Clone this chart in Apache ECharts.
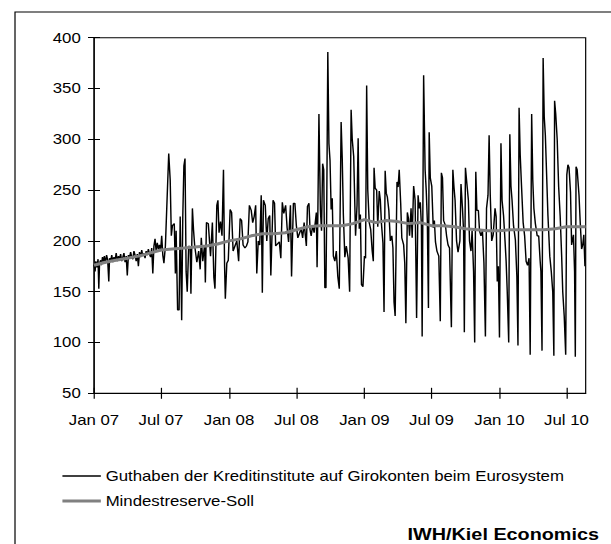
<!DOCTYPE html>
<html>
<head>
<meta charset="utf-8">
<script src="https://cdn.jsdelivr.net/npm/echarts@6/dist/echarts.min.js"></script>
<style>
  html, body { margin: 0; padding: 0; background: #fff; overflow: hidden; }
  #chart { width: 509px; height: 544px; transform: scaleX(1.2004); transform-origin: 0 0; }
</style>
</head>
<body>
<div id="chart"></div>
<script>
// Days counted from 1 Jan 2007; values in Mrd. Euro
const guthabenDays = [
  0, 3, 5, 8, 11, 13, 15, 18, 20, 23, 26, 28, 31, 34, 37, 40, 42, 45, 48, 51,
  54, 57, 60, 63, 66, 69, 72, 75, 78, 81, 84, 87, 90, 93, 96, 99, 102, 105, 108, 111,
  114, 117, 120, 123, 126, 129, 132, 135, 138, 141, 144, 147, 150, 153, 156, 159, 162, 165, 168, 171,
  174, 177, 180, 183, 186, 189,
  193, 202, 206, 209, 212, 217, 220, 222, 226, 230, 233, 237, 240, 243, 246, 249, 252, 256, 260, 262,
  266, 269, 272, 278, 283, 287, 290, 294, 299, 301, 304, 309, 315, 320, 324, 327, 332, 335, 338, 342,
  346, 350, 353, 355, 359, 363, 368, 372, 376, 381, 386, 391, 395, 399, 403, 408, 412, 416, 420, 425,
  429, 433, 437, 440, 444, 448, 452, 455, 458, 463, 467, 471, 475, 478, 484, 488, 491, 496, 501, 505,
  509, 513, 518, 522, 526, 531, 534, 539, 543, 547, 551, 556, 560, 564, 568, 574, 577, 581, 584, 587,
  591, 595, 601, 603, 605, 608, 612, 615, 618, 621, 624, 627, 629, 632, 635, 638, 641, 644, 647, 651,
  655, 659, 663, 668, 671, 674, 678, 682, 687, 691, 695, 698, 702, 707, 711, 714, 717, 720, 723, 727,
  731, 734, 737, 740, 744, 748, 752, 755, 757, 760, 764, 767, 771, 774, 777, 781, 784, 787, 790, 793,
  797, 801, 805, 808, 811, 814, 819, 822, 825, 829, 832, 837, 840, 843, 847, 850, 853, 857, 860, 864,
  868, 872, 876, 879, 882, 885, 887, 891, 895, 898, 901, 904, 906, 909, 913, 917, 920, 923, 927, 932,
  936, 939, 942, 945, 950, 953, 957, 961, 966, 970, 973, 976, 980, 984, 989, 992, 996, 999, 1001, 1004,
  1008, 1012, 1015, 1019, 1022, 1026, 1029, 1032, 1035, 1039, 1042, 1046, 1050, 1054, 1058, 1061, 1065, 1068, 1071, 1075,
  1079, 1084, 1087, 1090, 1093, 1096, 1100, 1103, 1107, 1111, 1114, 1117, 1121, 1124, 1127, 1130, 1134, 1139, 1143, 1146,
  1149, 1152, 1155, 1160, 1164, 1168, 1172, 1176, 1179, 1183, 1186, 1189, 1193, 1198, 1202, 1206, 1208, 1211, 1214, 1217,
  1220, 1223, 1227, 1232, 1236, 1240, 1243, 1245, 1248, 1252, 1256, 1260, 1264, 1267, 1271, 1275, 1278, 1281, 1284, 1288,
  1291, 1296, 1299, 1301, 1303, 1306, 1311, 1314, 1318, 1321, 1324, 1327, 1329
];
const guthabenValues = [
  177, 170, 180, 174, 182, 153, 178, 181, 176, 184, 179, 185, 178, 186, 181, 160, 183, 180, 186, 179,
  184, 181, 188, 180, 185, 182, 187, 180, 184, 188, 179, 185, 166, 186, 183, 189, 184, 182, 190, 186,
  180, 187, 175, 189, 184, 191, 185, 188, 183, 190, 186, 192, 187, 184, 193, 168, 195, 202, 190, 198,
  192, 196, 190, 205, 186, 178,
  195, 286, 260, 205, 215, 217, 168, 210, 132, 132, 224, 122, 224, 274, 281, 170, 150, 195, 194, 148,
  232, 211, 196, 179, 190, 172, 203, 180, 196, 159, 218, 217, 185, 218, 164, 153, 235, 240, 208, 219,
  205, 270, 175, 143, 178, 181, 231, 228, 190, 195, 200, 180, 222, 220, 196, 193, 195, 199, 235, 230,
  218, 224, 235, 168, 200, 196, 245, 149, 240, 235, 200, 222, 225, 166, 240, 237, 195, 197, 199, 183,
  238, 227, 235, 213, 199, 235, 165, 237, 237, 215, 203, 208, 212, 203, 218, 195, 234, 237, 211, 205,
  215, 208, 228, 174, 224, 325, 230, 210, 276, 270, 154, 154, 230, 386, 296, 279, 231, 242, 185, 180,
  190, 165, 153, 317, 281, 226, 184, 195, 183, 150, 329, 300, 283, 205, 235, 301, 212, 226, 157, 155,
  185, 183, 353, 250, 218, 211, 190, 180, 272, 252, 250, 214, 249, 240, 217, 198, 130, 269, 247, 243,
  230, 200, 205, 193, 140, 126, 258, 253, 270, 237, 203, 196, 178, 119, 228, 222, 205, 232, 203, 254,
  240, 124, 245, 232, 238, 215, 106, 363, 270, 250, 220, 134, 307, 262, 254, 213, 220, 199, 190, 185,
  121, 267, 262, 220, 215, 205, 196, 193, 115, 270, 253, 240, 200, 189, 200, 256, 232, 209, 110, 272,
  256, 240, 200, 190, 210, 170, 100, 268, 230, 230, 210, 205, 210, 178, 106, 232, 245, 304, 246, 200,
  206, 232, 224, 160, 175, 105, 296, 240, 225, 200, 180, 150, 100, 305, 254, 240, 215, 201, 165, 97,
  331, 285, 259, 218, 205, 180, 176, 183, 88, 325, 260, 232, 217, 205, 205, 180, 170, 92, 380, 322,
  304, 270, 225, 185, 170, 150, 87, 338, 325, 300, 253, 225, 186, 150, 126, 88, 265, 275, 272, 248,
  196, 206, 170, 86, 273, 270, 245, 220, 192, 196, 206, 175, 175
];

// Reserve requirement per maintenance period
const sollDays = [
  0, 31, 59, 90, 120, 151, 181, 212, 243, 273, 304, 334, 365, 396, 425, 456, 486, 517, 547, 578,
  609, 639, 670, 700, 731, 762, 790, 821, 851, 882, 912, 943, 974, 1004, 1035, 1065, 1096, 1127, 1155, 1186,
  1216, 1247, 1277, 1308, 1329
];
const sollValues = [
  176, 179, 181, 183, 185, 188, 191, 192, 193, 194, 195, 197, 200, 202, 205, 207, 207, 208, 211, 214,
  215, 215, 215, 217, 221, 218, 220, 219, 217, 218, 215, 215, 214, 212, 211, 210, 210, 211, 211, 211,
  211, 212, 214, 214, 214
];

const tickDays = [0, 181, 365, 547, 731, 912, 1096, 1277];
const tickLabels = ['Jan 07', 'Jul 07', 'Jan 08', 'Jul 08', 'Jan 09', 'Jul 09', 'Jan 10', 'Jul 10'];

const seriesNames = [
  'Guthaben der Kreditinstitute auf Girokonten beim Eurosystem',
  'Mindestreserve-Soll'
];
const seriesColors = ['#000000', '#808080'];

const FONT = 'Liberation Sans, Arial, sans-serif';

const guthabenData = guthabenDays.map((d, i) => [d, guthabenValues[i]]);
const sollData = sollDays.map((d, i) => [d, sollValues[i]]);

function dayLabel(v) {
  const i = tickDays.indexOf(Math.round(v));
  return i >= 0 ? tickLabels[i] : '';
}

// Two identical grids: the first carries data, labels and outward ticks,
// the second only adds inward ticks so every tick crosses the axis line.
const gridBox = { left: 78.3, right: 21.1, top: 37.7, bottom: 150.7 };

function xAxisFor(gridIndex, inside) {
  return {
    type: 'value', gridIndex, min: 0, max: 1329, position: 'bottom',
    splitLine: { show: false },
    axisLine: { show: !inside, onZero: false, lineStyle: { color: '#000', width: 1 } },
    axisTick: { show: true, inside, length: 5.5, customValues: tickDays, lineStyle: { color: '#000' } },
    axisLabel: inside ? { show: false } : {
      show: true, customValues: tickDays, formatter: dayLabel, margin: 20,
      color: '#000', fontSize: 14, fontFamily: FONT
    }
  };
}
function yAxisFor(gridIndex, inside) {
  return {
    type: 'value', gridIndex, min: 50, max: 400, interval: 50, position: 'left',
    splitLine: { show: false },
    axisLine: { show: !inside, onZero: false, lineStyle: { color: '#000', width: 1 } },
    axisTick: { show: true, inside, length: 5, lineStyle: { color: '#000' } },
    axisLabel: inside ? { show: false } : {
      show: true, margin: 11, color: '#000', fontSize: 14, fontFamily: FONT
    }
  };
}

function legendFor(i, centerY, lineHeight) {
  return {
    orient: 'vertical', left: 52, top: centerY - 7, padding: 0,
    itemWidth: 32, itemHeight: lineHeight, icon: 'rect',
    data: [seriesNames[i]],
    itemStyle: { color: seriesColors[i], borderWidth: 0 },
    textStyle: { color: '#000', fontSize: 14, fontFamily: FONT, padding: [0, 0, 0, -1] }
  };
}

const chart = echarts.init(document.getElementById('chart'), null, { renderer: 'svg' });
chart.setOption({
  backgroundColor: '#fff',
  animation: false,
  grid: [
    Object.assign({ show: true, borderColor: '#000', borderWidth: 1, backgroundColor: 'transparent' }, gridBox),
    Object.assign({ show: false }, gridBox)
  ],
  xAxis: [xAxisFor(0, false), xAxisFor(1, true)],
  yAxis: [yAxisFor(0, false), yAxisFor(1, true)],
  legend: [legendFor(0, 476, 1.3), legendFor(1, 501, 3)],
  series: [
    {
      name: seriesNames[0], type: 'line', xAxisIndex: 0, yAxisIndex: 0,
      data: guthabenData, symbol: 'none', z: 2,
      lineStyle: { color: seriesColors[0], width: 1.2 }, itemStyle: { color: seriesColors[0] }
    },
    {
      name: seriesNames[1], type: 'line', xAxisIndex: 0, yAxisIndex: 0,
      data: sollData, symbol: 'none', z: 3,
      lineStyle: { color: seriesColors[1], width: 3 }, itemStyle: { color: seriesColors[1] }
    }
  ],
  graphic: [
    {
      type: 'rect', silent: true,
      shape: { x: 12.5, y: 12, width: 700, height: 700 },
      style: { fill: 'none', stroke: '#000', lineWidth: 1 }
    },
    {
      type: 'text', silent: true,
      x: 499, y: 535,
      style: {
        text: 'IWH/Kiel Economics', align: 'right', verticalAlign: 'middle',
        font: 'bold 16.5px Liberation Sans, Arial, sans-serif', fill: '#000'
      }
    }
  ]
});
</script>
</body>
</html>
